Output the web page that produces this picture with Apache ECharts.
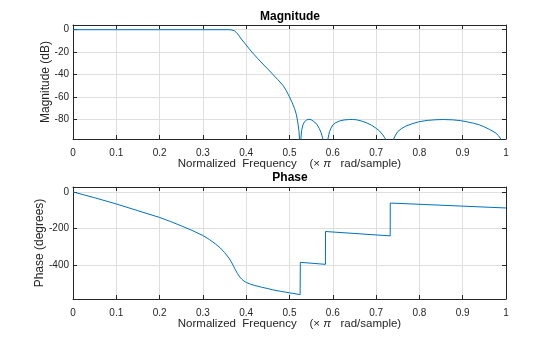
<!DOCTYPE html>
<html>
<head>
<meta charset="utf-8">
<script src="https://cdn.jsdelivr.net/npm/echarts@6/dist/echarts.min.js"></script>
<style>
html,body{margin:0;padding:0;background:#fff;}
#chart{width:560px;height:337px;}
</style>
</head>
<body>
<div id="chart"></div>
<script>
// Magnitude response (normalized frequency x pi rad/sample, dB)
const magFreq = [0, 0.1, 0.2, 0.3, 0.36, 0.365, 0.369, 0.373, 0.377, 0.381, 0.385, 0.392, 0.400, 0.407, 0.415, 0.427, 0.4385, 0.450, 0.4616, 0.473, 0.4847, 0.492, 0.500, 0.506, 0.5117, 0.516, 0.519, 0.522, 0.5235, 0.525,
  0.5265, 0.528, 0.531, 0.535, 0.540, 0.5447, 0.550, 0.5578, 0.564, 0.569, 0.573, 0.576, 0.578, 0.5832,
  0.5862, 0.5885, 0.5924, 0.596, 0.600, 0.607, 0.6155, 0.626, 0.6386, 0.645, 0.654, 0.665, 0.677, 0.689, 0.700, 0.708, 0.7155, 0.720, 0.723, 0.7325,
  0.737, 0.740, 0.745, 0.750, 0.758, 0.769, 0.783, 0.800, 0.818, 0.838, 0.855, 0.877, 0.895, 0.908, 0.925, 0.9386, 0.951, 0.9617, 0.970, 0.977, 0.983, 0.9887, 0.994, 1.0];
const magDb = [0, 0, 0, 0, 0, -0.1, -0.5, -1, -2, -4, -6.3, -10, -13.6, -17.1, -20.8, -25.9, -30.6, -35.2, -39.9, -44.6, -49.6, -54, -60, -65, -70.5, -76, -82.4, -91, -100, -130,
  -96, -90, -85, -82, -80.5, -80, -80.4, -82.4, -85, -88.4, -92, -96, -99, -130,
  -102, -97.9, -91, -87.8, -85, -83, -81.5, -80.6, -80.2, -80.2, -80.4, -81.4, -83, -85.2, -88, -90.5, -94, -96.5, -98.5, -130,
  -102, -98, -94, -91, -88.5, -86, -84, -82.1, -81, -80.4, -80.2, -80.5, -81.2, -82.1, -83.5, -85, -87, -89, -90.8, -92.5, -94.8, -98, -104, -130];

// Phase response (degrees)
const phaseFreq = [0, 0.05, 0.1, 0.15, 0.2, 0.225, 0.25, 0.275, 0.3, 0.315, 0.33, 0.34, 0.35, 0.36, 0.365, 0.37, 0.375, 0.38, 0.385, 0.39, 0.395, 0.40, 0.41, 0.42, 0.435, 0.45, 0.4616, 0.48, 0.50, 0.5245,
  0.5250, 0.5830, 0.5832, 0.7325, 0.7327, 1.0];
const phaseDeg = [0, -32, -66, -103, -140, -162, -186, -211, -239, -261, -287, -307, -332, -362, -381, -403, -427, -448, -466, -479, -489, -496, -506, -513, -522, -530, -537, -545, -553, -563,
  -386, -397, -217, -241, -61, -88];

const xTicks = [0, 0.1, 0.2, 0.3, 0.4, 0.5, 0.6, 0.7, 0.8, 0.9, 1];
const magTicks = [-80, -60, -40, -20, 0];
const phaseTicks = [-400, -200, 0];

const magData = magFreq.map((f, i) => [f, magDb[i]]);
const phaseData = phaseFreq.map((f, i) => [f, phaseDeg[i]]);

const FONT = "'Liberation Sans', Arial, Helvetica, sans-serif";
const AX = '#262626';
const GRIDC = '#dfdfdf';
const LINE = '#0072BD';

function xFmt(v) { return (v === 0 || v === 1) ? String(v) : v.toFixed(1); }

function xAxisMain(gi) {
  return {
    gridIndex: gi, type: 'value', min: 0, max: 1, interval: 0.1, position: 'bottom',
    axisLine: { show: true, onZero: false, lineStyle: { color: AX, width: 1 } },
    axisTick: { show: true, inside: true, length: 4, lineStyle: { color: AX } },
    axisLabel: { show: true, margin: 9, fontSize: 10, fontFamily: FONT, color: AX, formatter: xFmt },
    splitLine: { show: true, lineStyle: { color: GRIDC, width: 1 } },
    name: '{n|Normalized  Frequency    (\u00d7 }{p|\u03c0}{n|   rad/sample)}',
    nameLocation: 'middle', nameGap: 19, nameMoveOverlap: false,
    nameTextStyle: { fontSize: 11.5, fontFamily: FONT, color: AX,
      rich: { n: { fontSize: 11.5, fontFamily: FONT, color: AX }, p: { fontSize: 11.5, fontFamily: FONT, fontStyle: 'italic', color: AX } } }
  };
}
function xAxisTop(gi) {
  return {
    gridIndex: gi, type: 'value', min: 0, max: 1, interval: 0.1, position: 'top',
    axisLine: { show: true, onZero: false, lineStyle: { color: AX, width: 1 } },
    axisTick: { show: true, inside: true, length: 4, lineStyle: { color: AX } },
    axisLabel: { show: false }, splitLine: { show: false }
  };
}
function yAxisMain(gi, mn, mx, ticks, name, gap) {
  return {
    gridIndex: gi, type: 'value', min: mn, max: mx, position: 'left',
    axisLine: { show: true, onZero: false, lineStyle: { color: AX, width: 1 } },
    axisTick: { show: true, inside: true, length: 4, lineStyle: { color: AX }, customValues: ticks },
    axisLabel: { show: true, margin: 4, fontSize: 10, fontFamily: FONT, color: AX, customValues: ticks },
    splitLine: { show: true, lineStyle: { color: GRIDC, width: 1 } },
    name: name, nameLocation: 'middle', nameGap: gap, nameRotate: 90, nameMoveOverlap: false,
    nameTextStyle: { fontSize: 12, fontFamily: FONT, color: AX }
  };
}
function yAxisRight(gi, mn, mx, ticks) {
  return {
    gridIndex: gi, type: 'value', min: mn, max: mx, position: 'right',
    axisLine: { show: true, onZero: false, lineStyle: { color: AX, width: 1 } },
    axisTick: { show: true, inside: true, length: 4, lineStyle: { color: AX }, customValues: ticks },
    axisLabel: { show: false, customValues: ticks }, splitLine: { show: false }
  };
}

const chart = echarts.init(document.getElementById('chart'), null, { renderer: 'canvas' });
chart.setOption({
  animation: false,
  backgroundColor: '#ffffff',
  title: [
    { text: 'Magnitude', left: 290, top: 11, textAlign: 'center', padding: 0,
      textStyle: { fontSize: 12, fontWeight: 'bold', fontFamily: FONT, color: '#000' } },
    { text: 'Phase', left: 290, top: 172, textAlign: 'center', padding: 0,
      textStyle: { fontSize: 12, fontWeight: 'bold', fontFamily: FONT, color: '#000' } }
  ],
  grid: [
    { left: 73, top: 25, width: 433, height: 114, containLabel: false },
    { left: 73, top: 187, width: 433, height: 112, containLabel: false }
  ],
  xAxis: [xAxisMain(0), xAxisTop(0), xAxisMain(1), xAxisTop(1)],
  yAxis: [
    yAxisMain(0, -97.6, 4.2, magTicks, 'Magnitude (dB)', 21),
    yAxisRight(0, -97.6, 4.2, magTicks),
    yAxisMain(1, -587, 27, phaseTicks, 'Phase (degrees)', 27),
    yAxisRight(1, -587, 27, phaseTicks)
  ],
  series: [
    { type: 'line', xAxisIndex: 0, yAxisIndex: 0, data: magData, showSymbol: false, symbol: 'none',
      clip: true, lineStyle: { color: LINE, width: 1 }, itemStyle: { color: LINE }, z: 3 },
    { type: 'line', xAxisIndex: 2, yAxisIndex: 2, data: phaseData, showSymbol: false, symbol: 'none',
      clip: true, lineStyle: { color: LINE, width: 1 }, itemStyle: { color: LINE }, z: 3 }
  ]
});
</script>
</body>
</html>
